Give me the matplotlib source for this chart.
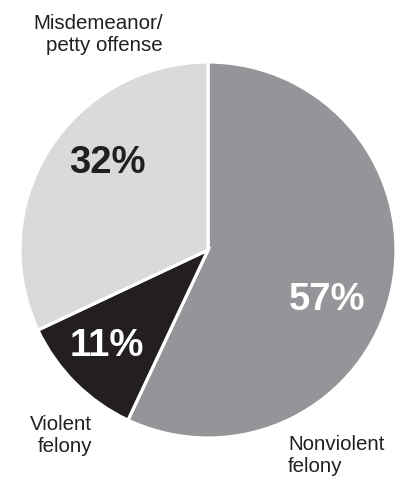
import matplotlib
matplotlib.use("Agg")
import matplotlib.pyplot as plt

categories = ["Nonviolent\nfelony", "Violent\nfelony", "Misdemeanor/\npetty offense"]
shares = [57, 11, 32]
pct_labels = ["57%", "11%", "32%"]
colors = ["#939598", "#231f20", "#d9dadb"]
pct_colors = ["white", "white", "#231f20"]

plt.rcParams['font.family'] = ['Liberation Sans', 'DejaVu Sans']

W, H = 399, 479
fig = plt.figure(figsize=(W / 100, H / 100), dpi=100)
ax = fig.add_axes([0, 0, 1, 1])

cx, cy, R = 208, 250, 188
ax.pie(shares, colors=colors, startangle=90, counterclock=False,
       center=(cx, H - cy), radius=R,
       wedgeprops=dict(edgecolor="white", linewidth=2.3))
ax.set_xlim(0, W)
ax.set_ylim(0, H)
ax.set_aspect('equal')
ax.axis('off')

# percentage labels (pixel positions)
pct_pos = [(327, 300), (107, 346), (107, 163)]
for (x, y), t, c in zip(pct_pos, pct_labels, pct_colors):
    ax.text(x, H - y, t, color=c, fontsize=27.5, fontweight='bold',
            ha='center', va='center')

# category labels
cat_pos = [(288, 456, 'left'), (92, 435, 'right'), (163, 34, 'right')]
for (x, y, ha), t in zip(cat_pos, categories):
    ax.text(x, H - y, t, color="#231f20", fontsize=14.8, ha=ha, va='center',
            multialignment=ha, linespacing=1.2)

fig.savefig("out.png", dpi=100)
